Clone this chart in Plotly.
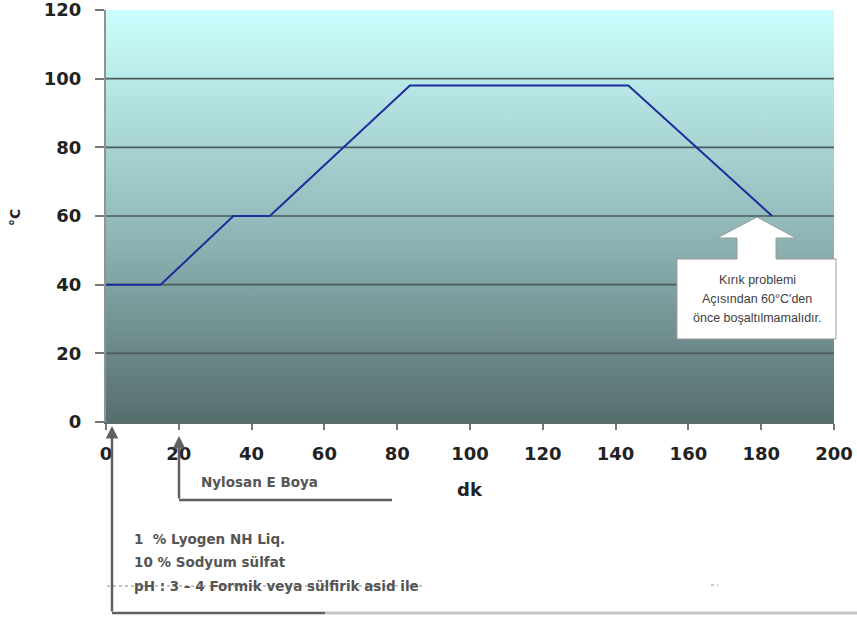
import plotly.graph_objects as go

# ---- data ----
time_min = [0, 15, 35, 45, 83.5, 143.5, 183]
temp_c = [40, 40, 60, 60, 98, 98, 60]
x_ticks = [0, 20, 40, 60, 80, 100, 120, 140, 160, 180, 200]
y_ticks = [0, 20, 40, 60, 80, 100, 120]
grid_vals = [20, 40, 60, 80, 100]
x_title = "dk"
y_title = "°C"
dye_note = "Nylosan E Boya"
aux_notes = ["1  % Lyogen NH Liq.", "10 % Sodyum sülfat", "pH : 3 – 4 Formik veya sülfirik asid ile"]
callout_lines = ["Kırık problemi", "Açısından 60°C'den", "önce boşaltılmamalıdır."]

W, H = 857, 618
L, R, T, B = 106, 23, 10, 196
PW, PH = W - L - R, H - T - B


def px(x):
    return (x - L) / PW


def py(y):
    return (H - B - y) / PH


XMIN, XMAX = x_ticks[0], x_ticks[-1]
YMIN, YMAX = y_ticks[0], y_ticks[-1]

fig = go.Figure()

# gradient background
fig.add_trace(go.Scatter(
    x=[XMIN, XMAX, XMAX, XMIN, XMIN], y=[YMIN, YMIN, YMAX, YMAX, YMIN],
    mode="lines", line=dict(width=0), fill="toself",
    fillgradient=dict(type="vertical",
                      colorscale=[[0, "#566d6d"], [0.5, "#95bdbd"], [1, "#ccffff"]]),
    hoverinfo="skip", showlegend=False))

# grid lines drawn above gradient
gx, gy = [], []
for v in grid_vals:
    gx += [XMIN, XMAX, None]
    gy += [v, v, None]
fig.add_trace(go.Scatter(x=gx, y=gy, mode="lines",
                         line=dict(color="#4b5a5a", width=1.6),
                         hoverinfo="skip", showlegend=False))

# temperature profile
fig.add_trace(go.Scatter(x=time_min, y=temp_c, mode="lines",
                         line=dict(color="#1f2c9c", width=2),
                         showlegend=False))

tickfont = dict(family="DejaVu Sans", size=18, color="#222222", weight="bold")

fig.update_xaxes(range=[XMIN, XMAX], tickvals=x_ticks, ticks="outside", ticklen=6,
                 tickcolor="#777777", tickwidth=1.5, showgrid=False, zeroline=False,
                 showline=True, linecolor="#5d6b6b", linewidth=1.5, automargin=False,
                 tickfont=tickfont, ticklabelstandoff=9, ticklabeloverflow="allow")
fig.update_yaxes(range=[YMIN, YMAX], tickvals=y_ticks, ticks="outside", ticklen=9,
                 tickcolor="#777777", tickwidth=1.5, showgrid=False, zeroline=False,
                 showline=True, linecolor="#8a9595", linewidth=2, automargin=False,
                 tickfont=tickfont, ticklabelstandoff=10, ticklabeloverflow="allow")

shapes = []
annotations = []

# axis titles
annotations.append(dict(xref="paper", yref="paper", x=px(470), y=py(489), text=x_title,
                        showarrow=False, xanchor="center", yanchor="middle",
                        font=dict(family="DejaVu Sans", size=18, color="#222222", weight="bold")))
annotations.append(dict(xref="paper", yref="paper", x=px(15), y=py(218), text=y_title,
                        showarrow=False, xanchor="center", yanchor="middle", textangle=-90,
                        font=dict(family="DejaVu Sans", size=14, color="#222222", weight="bold")))

# callout arrow + box
pts = [(757, 217), (796, 238), (776, 238), (776, 259), (836, 259), (836, 339),
       (677, 339), (677, 259), (737, 259), (737, 238), (717, 238)]
path = "M " + " L ".join(f"{px(a):.5f},{py(b):.5f}" for a, b in pts) + " Z"
shapes.append(dict(type="path", xref="paper", yref="paper", path=path,
                   fillcolor="white", line=dict(color="#9a9a9a", width=1), layer="above"))
for i, (txt, yy) in enumerate(zip(callout_lines, [280, 299, 318])):
    annotations.append(dict(xref="paper", yref="paper", x=px(757), y=py(yy), text=txt,
                            showarrow=False, xanchor="center", yanchor="middle",
                            font=dict(family="Liberation Sans", size=12.5,
                                      color="#404040")))

# arrow lines below axis
line_col = "#606060"
shapes.append(dict(type="line", xref="paper", yref="paper", x0=px(112), y0=py(613),
                   x1=px(325), y1=py(613), line=dict(color=line_col, width=2.5)))
shapes.append(dict(type="line", xref="paper", yref="paper", x0=px(325), y0=py(613),
                   x1=px(857), y1=py(613), line=dict(color="#c6c6c6", width=3)))
shapes.append(dict(type="line", xref="paper", yref="paper", x0=px(179), y0=py(500),
                   x1=px(392), y1=py(500), line=dict(color=line_col, width=2.5)))
shapes.append(dict(type="line", xref="paper", yref="paper", x0=px(107), y0=py(586),
                   x1=px(425), y1=py(586), line=dict(color="#b0b0b0", width=1.5, dash="dot")))
shapes.append(dict(type="line", xref="paper", yref="paper", x0=px(711), y0=py(585),
                   x1=px(718), y1=py(585), line=dict(color="#b8b8b8", width=1.5, dash="dot")))

annotations.append(dict(xref="paper", yref="paper", x=px(112), y=py(426), text="",
                        showarrow=True, ax=0, ay=187, arrowhead=2, arrowsize=1,
                        arrowwidth=2.5, arrowcolor=line_col))
annotations.append(dict(xref="paper", yref="paper", x=px(179), y=py(436), text="",
                        showarrow=True, ax=0, ay=64, arrowhead=2, arrowsize=1,
                        arrowwidth=2.5, arrowcolor=line_col))

notefont = dict(family="DejaVu Sans", size=13.5, color="#555555", weight="bold")
annotations.append(dict(xref="paper", yref="paper", x=px(199), y=py(482), text=dye_note,
                        showarrow=False, xanchor="left", yanchor="middle", font=notefont))
for txt, yy in zip(aux_notes, [539, 562, 586]):
    annotations.append(dict(xref="paper", yref="paper", x=px(132), y=py(yy), text=txt,
                            showarrow=False, xanchor="left", yanchor="middle", font=notefont))

fig.update_layout(width=W, height=H, margin=dict(l=L, r=R, t=T, b=B, autoexpand=False),
                  paper_bgcolor="white", plot_bgcolor="white",
                  shapes=shapes, annotations=annotations, showlegend=False)

fig.write_html("out.html")
